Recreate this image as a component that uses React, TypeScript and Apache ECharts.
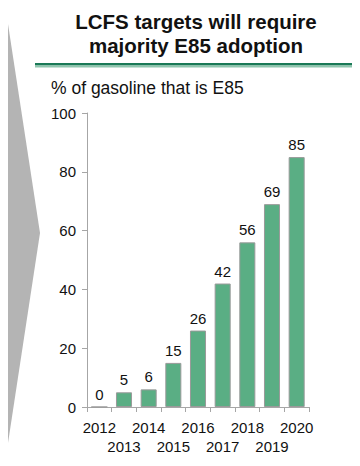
import React, { useEffect, useRef } from "react";
import * as echarts from "echarts";

const years = ["2012", "2013", "2014", "2015", "2016", "2017", "2018", "2019", "2020"];
const e85Share = [0, 5, 6, 15, 26, 42, 56, 69, 85];
const yTicks = [0, 20, 40, 60, 80, 100];

const FONT = "'Liberation Sans', Arial, sans-serif";

export default function App() {
  const ref = useRef<HTMLDivElement>(null);

  useEffect(() => {
    if (!ref.current) return;
    const chart = echarts.init(ref.current, undefined, { renderer: "svg" });
    chart.setOption({
      animation: false,
      backgroundColor: "#ffffff",
      grid: { left: 87, right: 51, top: 113, bottom: 59, containLabel: false },
      graphic: [
        {
          type: "polygon",
          shape: { points: [[8, 24], [40, 233], [8, 443]] },
          style: { fill: "#b4b4b4" },
          silent: true,
        },
        {
          type: "rect",
          shape: { x: 35, y: 63, width: 322, height: 2.5 },
          style: { fill: "#1b7a57" },
        },
        {
          type: "rect",
          shape: { x: 35, y: 65.5, width: 322, height: 2 },
          style: { fill: "#8fc6ae" },
        },
        {
          type: "text",
          x: 196,
          y: 21,
          style: {
            text: "LCFS targets will require",
            font: `bold 20.5px ${FONT}`,
            fill: "#111111",
            align: "center",
            verticalAlign: "middle",
          },
        },
        {
          type: "text",
          x: 196,
          y: 45,
          style: {
            text: "majority E85 adoption",
            font: `bold 20.5px ${FONT}`,
            fill: "#111111",
            align: "center",
            verticalAlign: "middle",
          },
        },
        {
          type: "text",
          x: 51,
          y: 88,
          style: {
            text: "% of gasoline that is E85",
            font: `17.5px ${FONT}`,
            fill: "#111111",
            align: "left",
            verticalAlign: "middle",
          },
        },
      ],
      xAxis: {
        type: "category",
        data: years,
        axisLine: { lineStyle: { color: "#a6a6a6", width: 1 } },
        axisTick: { show: true, alignWithLabel: false, length: 5, lineStyle: { color: "#a6a6a6" } },
        axisLabel: {
          interval: 0,
          color: "#111111",
          fontFamily: FONT,
          fontSize: 15,
          lineHeight: 19,
          margin: 11,
          formatter: (v: string, i: number) => (i % 2 === 1 ? "\n" + v : v + "\n"),
        },
      },
      yAxis: {
        type: "value",
        min: yTicks[0],
        max: yTicks[yTicks.length - 1],
        interval: 20,
        splitLine: { show: false },
        axisLine: { show: true, lineStyle: { color: "#a6a6a6", width: 1 } },
        axisTick: { show: true, length: 5, lineStyle: { color: "#a6a6a6" } },
        axisLabel: {
          color: "#111111",
          fontFamily: FONT,
          fontSize: 15,
          margin: 11,
        },
      },
      series: [
        {
          type: "bar",
          data: e85Share,
          barCategoryGap: "35%",
          itemStyle: { color: "#5aae84", borderColor: "#9a9a9a", borderWidth: 1 },
          label: {
            show: true,
            position: "top",
            distance: 5,
            color: "#111111",
            fontFamily: FONT,
            fontSize: 15,
          },
        },
      ],
    });
    return () => chart.dispose();
  }, []);

  return <div ref={ref} style={{ width: 360, height: 466, margin: -8 }} />;
}
